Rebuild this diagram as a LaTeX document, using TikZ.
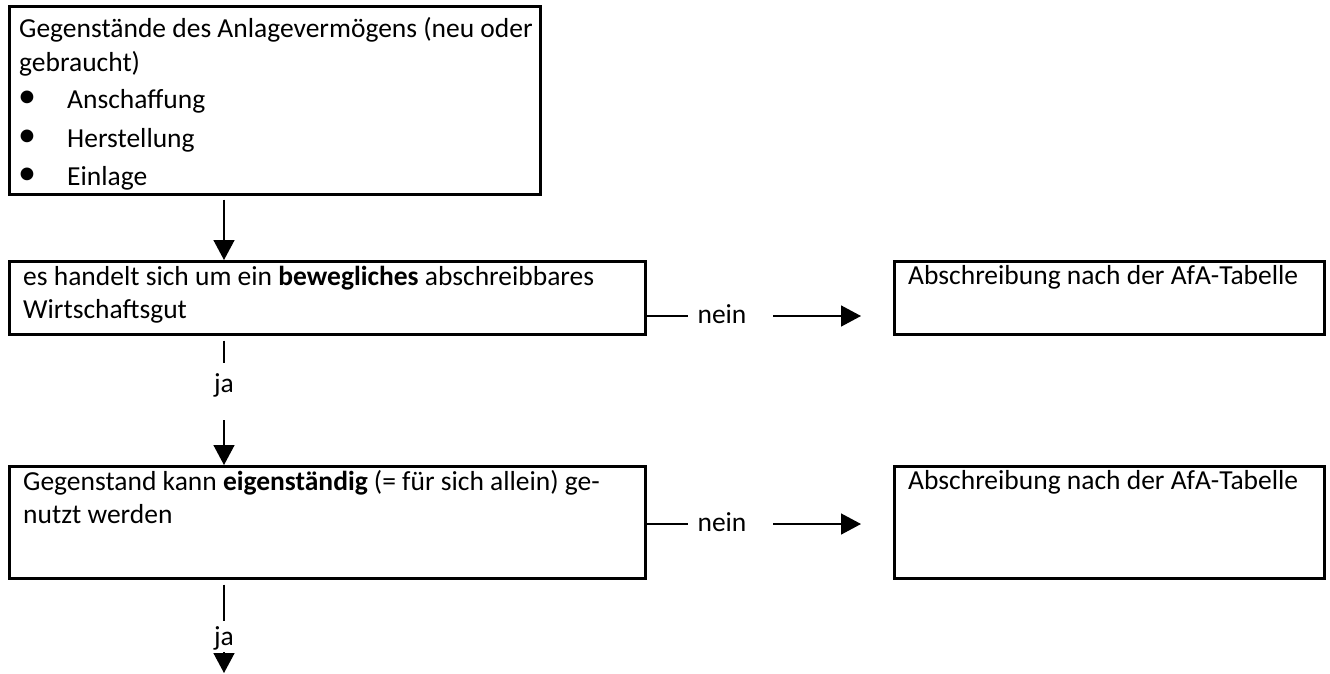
\documentclass[tikz,border=0pt]{standalone}
\usepackage{fontspec}
\setmainfont{Carlito}
\usetikzlibrary{arrows.meta,calc}
\newcommand\fsz{\fontsize{27.5}{33}\selectfont}
\newcommand\mybul{{\fontsize{36}{33}\selectfont\raisebox{1pt}{\textbullet}}}
\begin{document}
\begin{tikzpicture}[x=1pt,y=-1pt,
  box/.style={draw, line width=2.6pt, inner sep=0pt, anchor=north west},
  txt/.style={anchor=base west, inner sep=0pt, font=\fsz},
  lbl/.style={inner sep=0pt, font=\fsz},
  ln/.style={line width=1.5pt},
  arr/.style={line width=1.5pt, -{Triangle[length=20pt,width=21pt]}}]
\useasboundingbox (0,0) rectangle (1330,673);
\fill[white] (0,0) rectangle (1330,673);
% boxes
\node[box, minimum width=531pt, minimum height=188pt] (b1) at (8,5) {};
\node[box, minimum width=636pt, minimum height=73pt] (b2) at (8,260) {};
\node[box, minimum width=430pt, minimum height=73pt] (r1) at (893,260) {};
\node[box, minimum width=636pt, minimum height=112pt] (b3) at (8,465) {};
\node[box, minimum width=430pt, minimum height=112pt] (r2) at (893,465) {};
% texts box 1
\node[txt] (t1a) at (19,37) {Gegenstände des Anlagevermögens (neu oder};
\node[txt] (t1b) at (19,71) {gebraucht)};
\node[txt] (u1) at (18,108) {\mybul};
\node[txt] (t1c) at (67,108) {Anschaffung};
\node[txt] (u2) at (18,147) {\mybul};
\node[txt] (t1d) at (67,147) {Herstellung};
\node[txt] (u3) at (18,185) {\mybul};
\node[txt] (t1e) at (67,185) {Einlage};
% texts box 2
\node[txt] (t2a) at (23,285) {es handelt sich um ein \textbf{bewegliches} abschreibbares};
\node[txt] (t2b) at (23,318) {Wirtschaftsgut};
% texts box 3
\node[txt] (t3a) at (23,490) {Gegenstand kann \textbf{eigenständig} (= für sich allein) ge-};
\node[txt] (t3b) at (23,523) {nutzt werden};
% right boxes
\node[txt] (tr1) at (908,284) {Abschreibung nach der AfA-Tabelle};
\node[txt] (tr2) at (908,489) {Abschreibung nach der AfA-Tabelle};
% labels
\node[lbl, anchor=base] (n1) at (722,323) {nein};
\node[lbl, anchor=base] (n2) at (722,531) {nein};
\node[lbl] (ja1) at (224,385) {ja};
\node[lbl] (ja2) at (224,638) {ja};
\coordinate (end) at (224,673);
% connectors
\draw[arr] ($(b1.south west)+(216,4)$) -- ($(b2.north west)+(216,0)$);
\draw[ln] ($(b2.south -| ja1)+(0,5)$) -- ($(b2.south -| ja1)+(0,27)$);
\draw[arr] ($(b3.north -| ja1)+(0,-45)$) -- (b3.north -| ja1);
\draw[ln] ($(b3.south -| ja2)+(0,5)$) -- ($(b3.south -| ja2)+(0,41)$);
\draw[arr] ($(end)+(0,-21)$) -- (end);
\draw[ln] ($(b2.north east)+(0,56)$) -- ($(b2.north east)+(41,56)$);
\draw[arr] ($(r1.north west)+(-120,56)$) -- ($(r1.north west)+(-32,56)$);
\draw[ln] ($(b3.north east)+(0,59)$) -- ($(b3.north east)+(41,59)$);
\draw[arr] ($(r2.north west)+(-120,59)$) -- ($(r2.north west)+(-32,59)$);
\end{tikzpicture}
\end{document}
